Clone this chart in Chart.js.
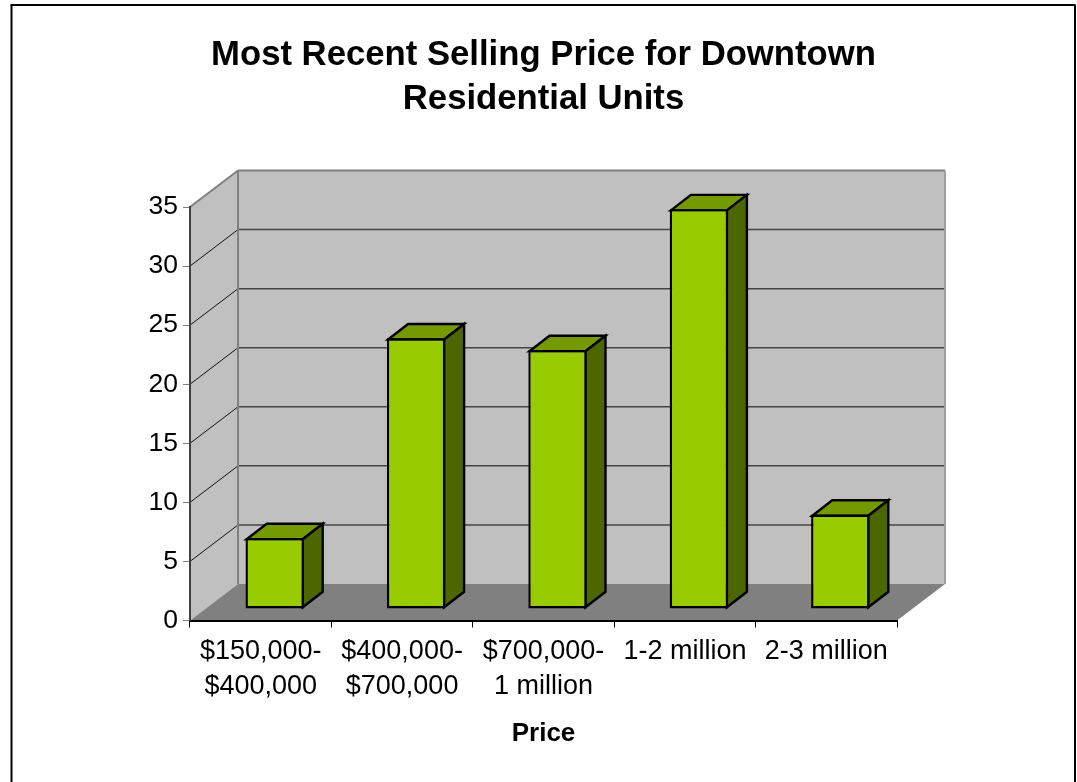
<!DOCTYPE html>
<html lang="en">
<head>
    <meta charset="UTF-8">
    <title>Most Recent Selling Price for Downtown Residential Units</title>
    <script src="https://cdn.jsdelivr.net/npm/chart.js"></script>
    <style>
        body { margin: 0; background: #fff; }
        canvas { display: block; }
    </style>
</head>
<body>
<canvas id="priceChart" width="1077" height="782"></canvas>

<script>
    const titleLines = ['Most Recent Selling Price for Downtown', 'Residential Units'];
    const categories = [
        ['$150,000-', '$400,000'],
        ['$400,000-', '$700,000'],
        ['$700,000-', '1 million'],
        '1-2 million',
        '2-3 million'
    ];
    const units = [6, 23, 22, 34, 8];

    const FONT = "'Liberation Sans', Arial, sans-serif";
    const WALL_DX = 48, WALL_DY = 36.5;   // depth of the box
    const BAR_DX = 20, BAR_DY = 15.5;     // depth of one bar
    const BAR_SHIFT_X = 14, BAR_SHIFT_Y = -12; // bars stand in the middle of the floor
    const BAR_LINE = 2.4;

    function line(ctx, x1, y1, x2, y2, color, width) {
        ctx.strokeStyle = color;
        ctx.lineWidth = width;
        ctx.beginPath();
        ctx.moveTo(x1, y1);
        ctx.lineTo(x2, y2);
        ctx.stroke();
    }

    function poly(ctx, pts, fill) {
        ctx.fillStyle = fill;
        ctx.beginPath();
        pts.forEach((p, i) => i ? ctx.lineTo(p[0], p[1]) : ctx.moveTo(p[0], p[1]));
        ctx.closePath();
        ctx.fill();
    }

    // outer frame, walls, floor and grid of the 3d box
    const boxPlugin = {
        id: 'box',
        beforeDraw(chart) {
            const ctx = chart.ctx;
            const { left, right, top, bottom } = chart.chartArea;
            const y = chart.scales.y;
            ctx.save();

            line(ctx, 11.5, 782, 11.5, 5, '#000', 2);
            line(ctx, 10.5, 5, 1075.5, 5, '#000', 2);
            line(ctx, 1075, 5, 1075, 782, '#000', 2);

            const bl = left + WALL_DX, br = right + WALL_DX;
            const bt = top - WALL_DY, bb = bottom - WALL_DY;
            poly(ctx, [[bl, bt], [br, bt], [br, bb], [bl, bb]], '#c0c0c0');
            poly(ctx, [[left, top], [bl, bt], [bl, bb], [left, bottom]], '#c0c0c0');
            poly(ctx, [[left, bottom], [bl, bb], [br, bb], [right, bottom]], '#808080');

            y.ticks.forEach(t => {
                if (t.value === 0 || t.value === 35) return;
                const py = y.getPixelForValue(t.value);
                line(ctx, left, py, bl, py - WALL_DY, '#111', 1);
                line(ctx, bl, py - WALL_DY, br, py - WALL_DY, '#444', 1.5);
            });

            line(ctx, left, top, bl, bt, '#808080', 2);
            line(ctx, bl, bt, br, bt, '#808080', 2);
            line(ctx, bl, bt, bl, bb, '#808080', 2);
            line(ctx, br, bt, br, bb, '#a0a0a0', 2);
            ctx.restore();
        },
        beforeDatasetsDraw(chart) {
            const ctx = chart.ctx;
            ctx.save();
            ctx.translate(BAR_SHIFT_X, BAR_SHIFT_Y);
            chart.getDatasetMeta(0).data.forEach(bar => {
                // bar border sits inside the rectangle, so use its centre line here
                const inset = BAR_LINE / 2;
                const x1 = bar.x - bar.width / 2 + inset, x2 = bar.x + bar.width / 2 - inset;
                const top = bar.y + inset, base = bar.base - inset;
                ctx.lineJoin = 'miter';
                ctx.strokeStyle = '#000';
                ctx.lineWidth = BAR_LINE;
                const topFace = [[x1, top], [x1 + BAR_DX, top - BAR_DY], [x2 + BAR_DX, top - BAR_DY], [x2, top]];
                const sideFace = [[x2, top], [x2 + BAR_DX, top - BAR_DY], [x2 + BAR_DX, base - BAR_DY], [x2, base]];
                poly(ctx, topFace, '#759900');
                ctx.stroke();
                poly(ctx, sideFace, '#4d6600');
                ctx.stroke();
            });
        },
        afterDatasetsDraw(chart) {
            chart.ctx.restore();
        }
    };

    new Chart(document.getElementById('priceChart').getContext('2d'), {
        type: 'bar',
        data: {
            labels: categories,
            datasets: [{
                data: units,
                yAxisID: 'yBar',
                backgroundColor: '#99cc00',
                borderColor: '#000',
                borderWidth: BAR_LINE,
                borderSkipped: false,
                categoryPercentage: 1,
                barPercentage: 0.413,
                clip: false
            }]
        },
        plugins: [boxPlugin],
        options: {
            responsive: false,
            animation: false,
            layout: { padding: { left: 10, right: 0, top: 0, bottom: 0 } },
            plugins: {
                legend: { display: false },
                tooltip: { enabled: false },
                title: {
                    display: true,
                    text: titleLines,
                    color: '#000',
                    font: { family: FONT, size: 34.7, weight: 'bold', lineHeight: 1.28 },
                    padding: { top: 33, bottom: 85.2 }
                }
            },
            scales: {
                x: {
                    position: 'bottom',
                    afterFit(scale) { scale.height = 161.5; },
                    grid: { drawOnChartArea: false, color: '#000', tickLength: 7, lineWidth: 1 },
                    border: { color: '#000', width: 2 },
                    ticks: {
                        color: '#000',
                        maxRotation: 0,
                        autoSkip: false,
                        padding: 6,
                        font: { family: FONT, size: 27, lineHeight: 1.3 }
                    },
                    title: {
                        display: true,
                        text: 'Price',
                        color: '#000',
                        font: { family: FONT, size: 26, weight: 'bold' },
                        padding: { top: 0, bottom: 33 }
                    }
                },
                y: {
                    position: 'left',
                    min: 0,
                    max: 35,
                    afterFit(scale) { scale.width = 180; },
                    grid: { drawOnChartArea: false, color: '#808080', tickLength: 7 },
                    border: { color: '#404040', width: 2 },
                    ticks: {
                        stepSize: 5,
                        color: '#000',
                        padding: 5,
                        font: { family: FONT, size: 26.5 }
                    }
                },
                // same height as y, the bars come out slightly shorter than the front axis in the original
                yBar: {
                    position: 'right',
                    min: 0,
                    max: 35.2,
                    afterFit(scale) { scale.width = 180; },
                    grid: { display: false },
                    border: { display: false },
                    ticks: { display: false }
                }
            }
        }
    });
</script>
</body>
</html>
